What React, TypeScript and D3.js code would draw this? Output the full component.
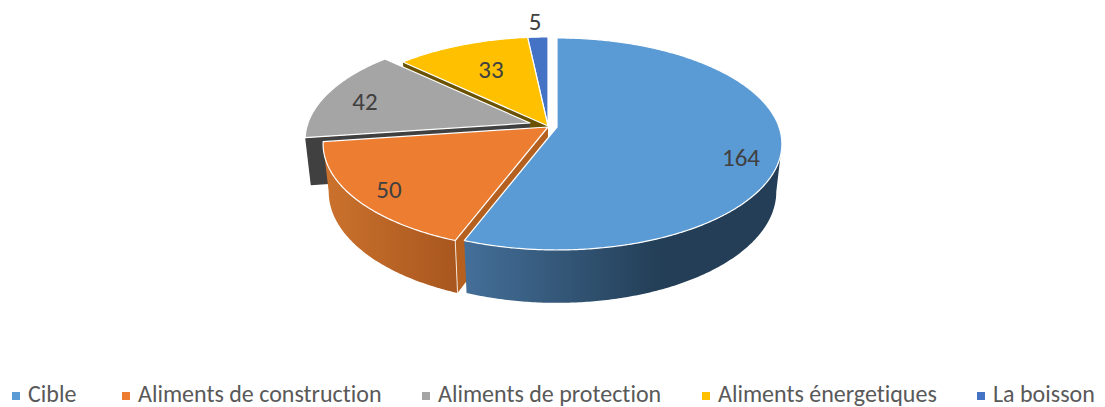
import React from "react";
import * as d3 from "d3";

const categories = ["Cible", "Aliments de construction", "Aliments de protection", "Aliments énergetiques", "La boisson"];
const values = [164, 50, 42, 33, 5];
const topColors = ["#5B9BD5", "#ED7D31", "#A5A5A5", "#FFC000", "#4472C4"];
const faceColors = ["#2f5171", "#b5601f", "#404040", "#6b5200", "#2a4478"];
const wallFrom = ["#446f99", "#cb722d", "#404040", "#7f6000", "#2a4478"];
const wallTo = ["#233e56", "#a9571f", "#404040", "#7f6000", "#2a4478"];

// layout
const width = 1105, height = 407;
const apexes = [[557, 127], [548, 127], [530, 123], [548, 126], [548, 126]];
const labelOffsets = [[184, 30], [-159, 62], [-165, -22], [-57, -57], [-13, -105]];
const legendText = [28, 138, 438, 718, 993];
const A = 222, B = 103.3, K = 0.16, DS = 0.975, DEPTH = 47;
const font = "Carlito, Calibri, Lato, sans-serif";

type P = [number, number];
const top = (c: number[], t: number): P => {
  const u = Math.sin(t), v = -Math.cos(t), w = 1 - K * v;
  return [c[0] + (A * u) / w, c[1] + (B * v) / w];
};
const bottom = (c: number[], t: number): P => {
  const u = Math.sin(t), v = -Math.cos(t), w = 1 - K * v;
  return [c[0] + (A * DS * u) / w, c[1] + (B * DS * v) / w + DEPTH / w];
};
const sample = (a: number, b: number) => {
  const n = Math.max(2, Math.ceil(Math.abs(b - a) / 0.01));
  return d3.range(n + 1).map((i) => a + ((b - a) * i) / n);
};
const line = d3.line<P>();

const arcs = d3.pie<number>().sort(null).startAngle(0).endAngle(2 * Math.PI)(values);
const tangent = Math.acos(-K);

export default function App() {
  const slices = arcs.map((a, i) => {
    const c = apexes[i];
    const rim = sample(a.startAngle, a.endAngle);
    const topPath = line([c as P, ...rim.map((t) => top(c, t))]) + "Z";
    const w0 = Math.max(a.startAngle, tangent);
    const w1 = Math.min(a.endAngle, 2 * Math.PI - tangent);
    let wall: string | null = null;
    if (w1 > w0) {
      const s = sample(w0, w1);
      wall = line([...s.map((t) => top(c, t)), ...s.slice().reverse().map((t) => bottom(c, t))]) + "Z";
    }
    const face = Math.sin(a.startAngle) < -1e-6
      ? line([c as P, top(c, a.startAngle), bottom(c, a.startAngle), [c[0], c[1] + DEPTH]]) + "Z"
      : null;
    const xs = wall ? [top(c, w1)[0], top(c, w0)[0]] : [0, 1];
    return { i, c, topPath, wall, face, xs, edgeTop: top(c, a.startAngle), edgeBottom: bottom(c, a.startAngle) };
  });
  const order = [4, 3, 2, 1, 0];
  return (
    <svg width={width} height={height} style={{ position: "absolute", left: 0, top: 0, background: "#fff", fontVariantLigatures: "none" }} fontFamily={font}>
      <defs>
        {slices.map((s) => (
          <linearGradient key={s.i} id={`wall${s.i}`} gradientUnits="userSpaceOnUse" x1={s.xs[0]} x2={s.i === 0 ? s.xs[1] - 120 : s.xs[1]} y1={0} y2={0}>
            <stop offset="0" stopColor={wallFrom[s.i]} />
            <stop offset="1" stopColor={wallTo[s.i]} />
          </linearGradient>
        ))}
      </defs>
      {order.map((i) => {
        const s = slices[i];
        return (
          <g key={i}>
            {s.face && <path d={s.face} fill={faceColors[i]} />}
            {s.wall && <path d={s.wall} fill={`url(#wall${i})`} />}
            {s.face && s.wall && i === 1 && (
              <line x1={s.edgeTop[0]} y1={s.edgeTop[1]} x2={s.edgeBottom[0]} y2={s.edgeBottom[1]} stroke="#f3e3d6" strokeWidth={1} />
            )}
            <path d={s.topPath} fill={topColors[i]} stroke="#fff" strokeWidth={1.2} strokeLinejoin="round" />
          </g>
        );
      })}
      {slices.map((s) => (
        <text key={s.i} x={s.c[0] + labelOffsets[s.i][0]} y={s.c[1] + labelOffsets[s.i][1]} textAnchor="middle" dominantBaseline="central" fontSize={25} fill="#404040">
          {values[s.i]}
        </text>
      ))}
      {categories.map((c, i) => (
        <g key={c}>
          <rect x={legendText[i] - 16} y={392} width={8} height={8} fill={topColors[i]} />
          <text x={legendText[i]} y={402} fontSize={24} fill="#595959">{c}</text>
        </g>
      ))}
    </svg>
  );
}
